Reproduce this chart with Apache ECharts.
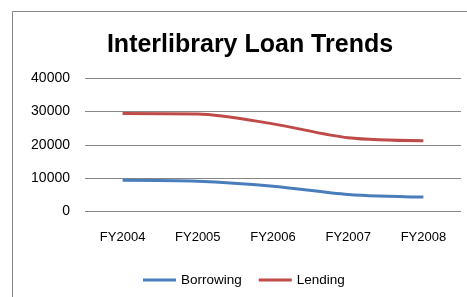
<!DOCTYPE html>
<html><head><meta charset="utf-8">
<script src="https://cdn.jsdelivr.net/npm/echarts@6/dist/echarts.min.js"></script>
<style>html,body{margin:0;padding:0;background:#fff}#c{width:467px;height:297px}</style>
</head><body><div id="c"></div>
<script>
const categories = ['FY2004','FY2005','FY2006','FY2007','FY2008'];
const borrowing = [9300, 9000, 7500, 5000, 4200];
const lending = [29400, 29300, 26300, 22100, 21200];
const yTicks = [0, 10000, 20000, 30000, 40000];

const chart = echarts.init(document.getElementById('c'));
chart.setOption({
  animation: false,
  backgroundColor: '#fff',
  title: {
    text: 'Interlibrary Loan Trends',
    left: 245, top: 28, textAlign: 'center',
    textStyle: {fontFamily: 'Liberation Sans', fontWeight: 'bold', fontSize: 25, color: '#000'}
  },
  graphic: [{type: 'rect', shape: {x: 12.5, y: 11.5, width: 470, height: 300}, style: {fill: 'none', stroke: '#868686', lineWidth: 1}, z: -1}],
  grid: {left: 85, right: 6, top: 78.5, bottom: 86},
  xAxis: {
    type: 'category', data: categories, boundaryGap: true,
    axisLine: {show: false}, axisTick: {show: false},
    axisLabel: {fontFamily: 'Liberation Sans', fontSize: 13, color: '#000', margin: 20}
  },
  yAxis: {
    type: 'value', min: yTicks[0], max: yTicks[yTicks.length-1], interval: 10000,
    axisLine: {show: false}, axisTick: {show: false},
    axisLabel: {fontFamily: 'Liberation Sans', fontSize: 14, color: '#000', margin: 15, formatter: v => String(v)},
    splitLine: {lineStyle: {color: '#868686', width: 1}}
  },
  legend: {
    bottom: 10, left: 143, padding: 0, itemGap: 17, itemWidth: 33, itemHeight: 3,
    icon: 'rect',
    textStyle: {fontFamily: 'Liberation Sans', fontSize: 13.5, color: '#000'},
    data: ['Borrowing', 'Lending']
  },
  series: [
    {name: 'Borrowing', type: 'line', data: borrowing, smooth: 0.3, symbol: 'none', color: '#4A7EBB', lineStyle: {width: 3, color: '#4A7EBB'}},
    {name: 'Lending', type: 'line', data: lending, smooth: 0.3, symbol: 'none', color: '#BE4B48', lineStyle: {width: 3, color: '#BE4B48'}}
  ]
});
</script></body></html>
